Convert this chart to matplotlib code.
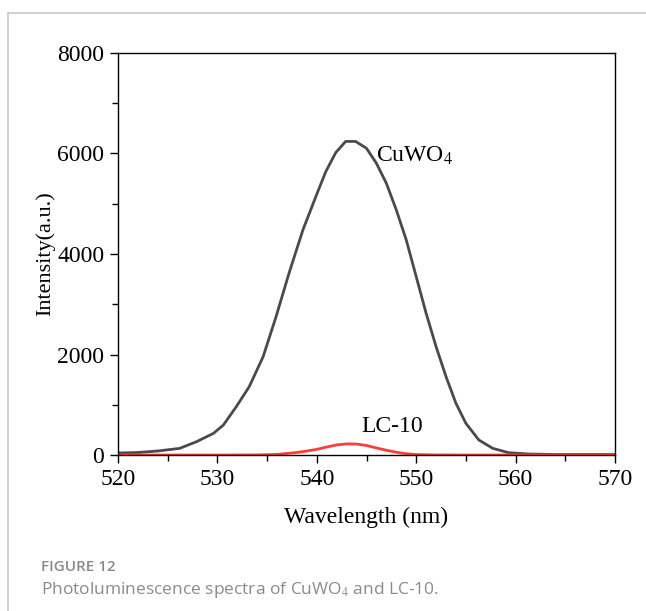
import numpy as np
import matplotlib.pyplot as plt
from matplotlib.ticker import MultipleLocator
from matplotlib.lines import Line2D

# Spectra
cuwo4_wl = [520, 522, 524, 526.2, 527.9, 529.6, 530.6, 531.9, 533.2, 534.6, 535.9,
            537.2, 538.6, 539.9, 540.9, 541.9, 542.9, 543.9, 545, 546, 547, 548,
            549, 550, 551, 552, 553, 554, 555, 556.3, 557.7, 559.3, 561.3, 564, 570]
cuwo4_int = [40, 50, 80, 132, 265, 431, 597, 962, 1360, 1957, 2753,
             3615, 4478, 5141, 5638, 6016, 6240, 6240, 6103, 5804, 5406, 4876,
             4279, 3549, 2819, 2156, 1559, 1028, 630, 299, 133, 46, 20, 10, 10]

lc10_wl = [520, 530, 534, 536, 538, 539, 540, 541, 542, 543, 544, 545, 546, 547,
           548, 549, 550, 552, 555, 570]
lc10_int = [0, 0, 2, 12, 50, 80, 112, 160, 200, 222, 218, 190, 140, 95,
            55, 25, 10, 2, 0, 0]

plt.rcParams['font.family'] = ['Liberation Serif', 'DejaVu Serif']
plt.rcParams['mathtext.fontset'] = 'stix'

fig = plt.figure(figsize=(6.46, 6.11), dpi=100)
ax = fig.add_axes([0.1827, 0.2553, 0.7693, 0.658])

ax.plot(cuwo4_wl, cuwo4_int, color='#4a4a4a', lw=2.0)
ax.plot(lc10_wl, lc10_int, color='#ff3b3b', lw=2.0)

ax.set_xlim(520, 570)
ax.set_ylim(0, 8000)
ax.xaxis.set_major_locator(MultipleLocator(10))
ax.xaxis.set_minor_locator(MultipleLocator(5))
ax.yaxis.set_major_locator(MultipleLocator(2000))
ax.yaxis.set_minor_locator(MultipleLocator(1000))
ax.tick_params(which='major', direction='out', length=6, width=1, labelsize=17, pad=4)
ax.tick_params(which='minor', direction='out', length=4, width=1)
for s in ax.spines.values():
    s.set_linewidth(1)

ax.set_xlabel('Wavelength (nm)', fontsize=17, labelpad=12)
ax.set_ylabel('Intensity(a.u.)', fontsize=16, labelpad=1)

ax.text(546.0, 5950, 'CuWO$_4$', fontsize=17, va='center', ha='left')
ax.text(544.5, 560, 'LC-10', fontsize=17, va='center', ha='left')

# frame around the figure panel
fig.add_artist(Line2D([8/646, 1], [1 - 13/611, 1 - 13/611], color='#c8c8c8', lw=1.2))
fig.add_artist(Line2D([8/646, 8/646], [0, 1 - 13/611], color='#c8c8c8', lw=1.2))

fig.text(41/646, 1 - 567/611, 'FIGURE 12', fontsize=11, color='#8a8a8a',
         family='Open Sans', weight='semibold', va='center')
fig.text(41/646, 1 - 590/611, 'Photoluminescence spectra of CuWO$_4$ and LC-10.',
         fontsize=12.5, color='#8a8a8a', family='Open Sans', va='center')

fig.savefig('out.png', dpi=100)
